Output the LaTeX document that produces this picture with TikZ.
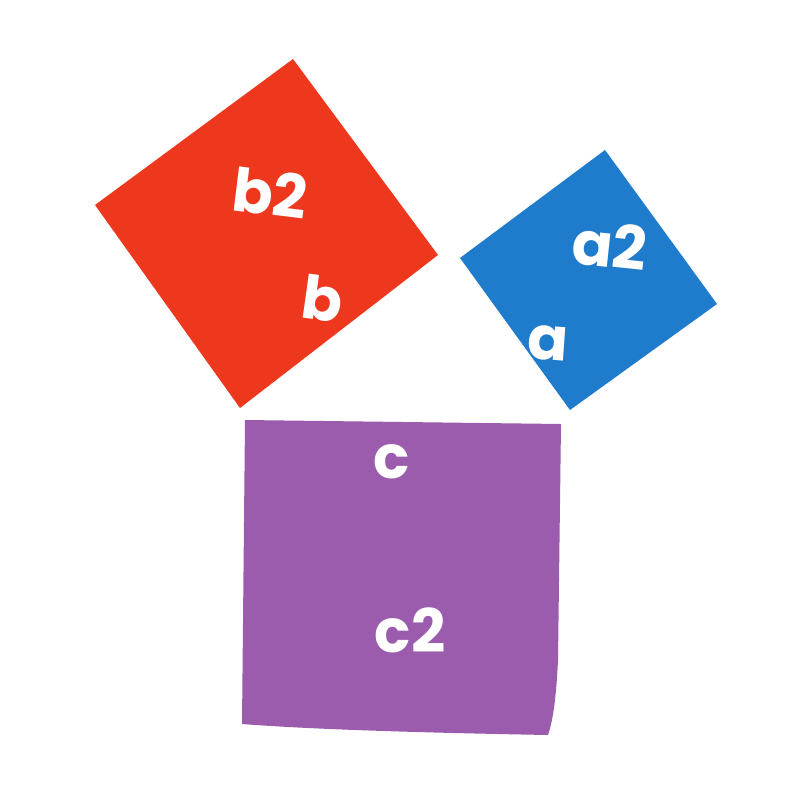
\documentclass[tikz,border=0pt]{standalone}
\usepackage{fontspec}
\newfontfamily\labelfont{Poppins}[UprightFont=* Bold]
\definecolor{sqred}{RGB}{238,56,30}
\definecolor{sqblue}{RGB}{31,123,203}
\definecolor{sqpurple}{RGB}{155,92,174}
\begin{document}
\begin{tikzpicture}[x=1pt,y=-1pt,
  lbl/.style={text=white,font=\labelfont\fontsize{60}{60}\selectfont,inner sep=0pt,anchor=center}]
\useasboundingbox (0,0) rectangle (800,800);
\fill[white] (0,0) rectangle (800,800);
% red square
\fill[sqred] (95,205) -- (293,59) -- (438,255) -- (240,408) -- cycle;
% blue square
\fill[sqblue] (460,258) -- (605,150) -- (717,304) -- (570,410) -- cycle;
% purple square
\fill[sqpurple] (245,420) -- (561,424) -- (558,660) .. controls (556,700) and (553,720) .. (548,735)
  .. controls (440,733) and (320,730) .. (242,724) -- cycle;
% labels
\node[lbl,rotate=-7] (b2) at (270,193) {b2};
\node[lbl,rotate=-8] (b) at (323,299) {b};
\node[lbl,rotate=-6] (a2) at (610,245) {a2};
\node[lbl,rotate=-4] (a) at (548,343) {a};
\node[lbl] (c) at (392,462) {c};
\node[lbl] (c2) at (410,630) {c2};
\end{tikzpicture}
\end{document}
